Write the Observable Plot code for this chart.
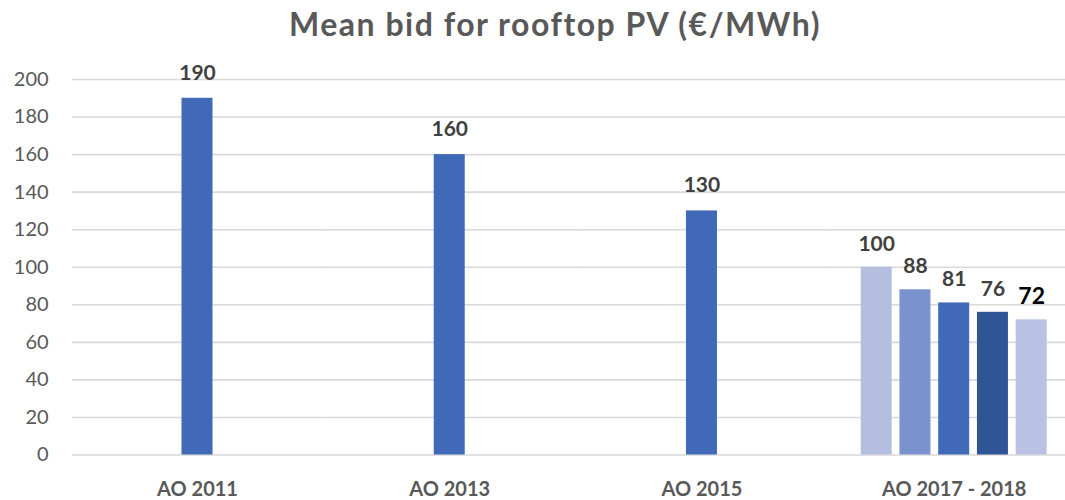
<!DOCTYPE html>
<html><head><meta charset="utf-8">
<script src="https://cdn.jsdelivr.net/npm/d3@7"></script>
<script src="https://cdn.jsdelivr.net/npm/@observablehq/plot@0.6"></script>
<style>
body{margin:0;background:#fff;font-family:Lato,sans-serif;}
#wrap{position:relative;width:1065px;height:500px;overflow:hidden;}
#title{position:absolute;left:555px;top:3.5px;transform:translateX(-50%);white-space:nowrap;font-weight:bold;font-size:32px;letter-spacing:1.5px;font-family:Lato,sans-serif;color:#595959;}
#chart{position:absolute;left:0;top:58px;}
</style>
</head><body>
<div id="wrap"><div id="title">Mean bid for rooftop PV (€/MWh)</div><div id="chart"></div></div>
<script>
const categories = ["AO 2011", "AO 2013", "AO 2015", "AO 2017 - 2018"];
const rounds = ["Round 1", "Round 2", "Round 3", "Round 4", "Round 5"];
const palette = ["#b4bfe0", "#7a93cf", "#4069b8", "#2f5597", "#b9c2e3"];
const barCategory = ["AO 2011", "AO 2013", "AO 2015", "AO 2017 - 2018", "AO 2017 - 2018", "AO 2017 - 2018", "AO 2017 - 2018", "AO 2017 - 2018"];
const barRound = ["Round 3", "Round 3", "Round 3", "Round 1", "Round 2", "Round 3", "Round 4", "Round 5"];
const barValue = [190, 160, 130, 100, 88, 81, 76, 72];
const yTicks = [0, 20, 40, 60, 80, 100, 120, 140, 160, 180, 200];

const bars = barValue.map((v, i) => ({category: barCategory[i], round: barRound[i], value: v, last: i === barValue.length - 1, group: barCategory[i] === categories[3]}));

const chart = Plot.plot({
  width: 1065, height: 442,
  marginLeft: 72, marginRight: 3, marginTop: 21, marginBottom: 45.5,
  style: {fontFamily: "Lato, sans-serif", background: "#fff"},
  fx: {domain: categories, paddingInner: 0.2318, paddingOuter: 0.0784, align: 0.711, round: false, label: null},
  x: {domain: rounds, paddingInner: 0.2, paddingOuter: 0.1, round: false, axis: null},
  y: {domain: [0, 200], axis: null},
  color: {domain: rounds, range: palette},
  marks: [
    Plot.ruleY(yTicks, {y: d => d, stroke: "#d9d9d9", strokeWidth: 1.6, insetLeft: -28.1, insetRight: -31}),
    Plot.axisY({ticks: yTicks, tickSize: 0, tickPadding: 52, fontSize: 20, color: "#595959", label: null}),
    Plot.barY(bars, {fx: "category", x: "round", y: "value", fill: "round"}),
    Plot.text(bars.filter(d => !d.group), {fx: "category", x: "round", y: "value", text: d => String(d.value), dy: -18.5, lineAnchor: "bottom", fontSize: 21, fontWeight: "bold", fill: "#404040"}),
    Plot.text(bars.filter(d => d.group && !d.last), {fx: "category", x: "round", y: "value", text: d => String(d.value), dy: -16.5, lineAnchor: "bottom", fontSize: 21, fontWeight: "bold", fill: "#404040"}),
    Plot.text(bars.filter(d => d.last), {fx: "category", x: "round", y: "value", text: d => String(d.value), dy: -16, lineAnchor: "bottom", fontSize: 23, fontWeight: "bold", fill: "#000"}),
    Plot.axisFx({anchor: "bottom", tickSize: 0, tickPadding: 27, fontSize: 20, fontWeight: "bold", color: "#595959", label: null})
  ]
});
document.getElementById("chart").appendChild(chart);
</script>
</body></html>
